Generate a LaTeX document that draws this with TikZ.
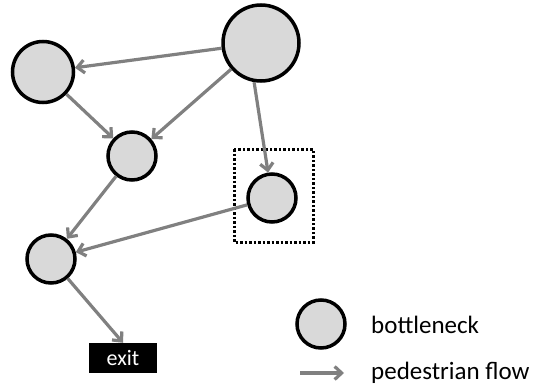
\documentclass[tikz,border=0pt]{standalone}
\usepackage{fontspec}
\setmainfont{Carlito}
\usetikzlibrary{arrows.meta}

\definecolor{bfill}{HTML}{D9D9D9}
\definecolor{flow}{HTML}{808080}

\tikzset{
  bneck/.style={circle, draw=black, line width=3.5pt, fill=bfill, inner sep=0pt},
  pflow/.style={draw=flow, line width=3.2pt, -{Straight Barb[length=7pt,width=13pt,line width=3.2pt]}},
}

\begin{document}
\begin{tikzpicture}[x=1pt,y=-1pt]
  \useasboundingbox (0,0) rectangle (535,385);
  % bottlenecks
  \node [bneck, minimum size=76pt] (big) at (261,43) {};
  \node [bneck, minimum size=61pt] (left) at (43,72) {};
  \node [bneck, minimum size=48pt] (mid) at (132,156) {};
  \node [bneck, minimum size=48pt] (boxed) at (272,198) {};
  \node [bneck, minimum size=48pt] (low) at (51,259) {};
  \node [fill=black, text=white, minimum width=68pt, minimum height=30pt, inner sep=0pt,
         font=\fontsize{22}{26}\selectfont] (exit) at (123,358) {exit};
  \draw [line width=3pt, dash pattern=on 2.5pt off 2pt] (234,149) rectangle (313,242);
  % flows
  \draw [pflow] (big) -- (left);
  \draw [pflow] (big) -- (mid);
  \draw [pflow] (big.260) -- (boxed);
  \draw [pflow] (left) -- (mid);
  \draw [pflow] (mid) -- (low);
  \draw [pflow] (boxed) -- (low);
  \draw [pflow] (low) -- (exit.north);
  % legend
  \node [bneck, minimum size=48pt] (lcirc) at (321,324) {};
  \node [right, inner sep=0pt, font=\fontsize{25}{30}\selectfont] (lbn) at (371,325) {bottleneck};
  \coordinate (la) at (300,373);
  \coordinate (lb) at (344,373);
  \draw [pflow] (la) -- (lb);
  \node [right, inner sep=0pt, font=\fontsize{25}{30}\selectfont] (lpf) at (371,373) {pedestrian flow};
\end{tikzpicture}
\end{document}
